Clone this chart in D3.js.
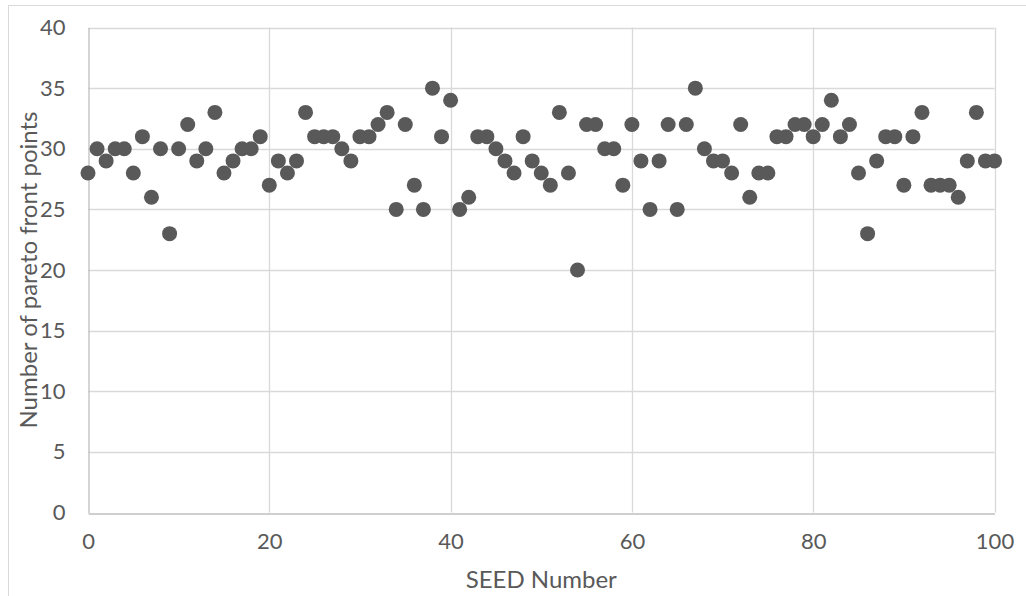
<!DOCTYPE html>
<html>
<head>
<meta charset="utf-8">
<script src="https://cdn.jsdelivr.net/npm/d3@7"></script>
<style>
  html, body { margin: 0; padding: 0; background: #fff; }
  svg { display: block; }
  text { font-family: Lato, "Open Sans", sans-serif; fill: #595959; }
</style>
</head>
<body>
<script>
const seeds = d3.range(0, 101);
const paretoPoints = [
  28, 30, 29, 30, 30, 28, 31, 26, 30, 23,
  30, 32, 29, 30, 33, 28, 29, 30, 30, 31,
  27, 29, 28, 29, 33, 31, 31, 31, 30, 29,
  31, 31, 32, 33, 25, 32, 27, 25, 35, 31,
  34, 25, 26, 31, 31, 30, 29, 28, 31, 29,
  28, 27, 33, 28, 20, 32, 32, 30, 30, 27,
  32, 29, 25, 29, 32, 25, 32, 35, 30, 29,
  29, 28, 32, 26, 28, 28, 31, 31, 32, 32,
  31, 32, 34, 31, 32, 28, 23, 29, 31, 31,
  27, 31, 33, 27, 27, 27, 26, 29, 33, 29,
  29
];
const xTicks = [0, 20, 40, 60, 80, 100];
const yTicks = [0, 5, 10, 15, 20, 25, 30, 35, 40];
const xTitle = "SEED Number";
const yTitle = "Number of pareto front points";

const W = 1026, H = 596;
const svg = d3.select("body").append("svg").attr("width", W).attr("height", H);

// outer chart border
svg.append("rect").attr("x", 8.5).attr("y", 5.5).attr("width", W - 8).attr("height", H)
  .attr("fill", "#fff").attr("stroke", "#d9d9d9").attr("stroke-width", 1);

const x = d3.scaleLinear().domain([0, 100]).range([88, 994.5]);
const y = d3.scaleLinear().domain([0, 40]).range([512.5, 27.5]);

// horizontal gridlines
svg.append("g").selectAll("line").data(yTicks.filter(d => d > 0)).join("line")
  .attr("x1", x(0)).attr("x2", x(100))
  .attr("y1", d => Math.round(y(d)) + 0.5).attr("y2", d => Math.round(y(d)) + 0.5)
  .attr("stroke", "#d9d9d9").attr("stroke-width", 1.3);
// vertical gridlines
svg.append("g").selectAll("line").data(xTicks.filter(d => d > 0)).join("line")
  .attr("y1", y(0)).attr("y2", y(40))
  .attr("x1", d => Math.round(x(d)) + 0.5).attr("x2", d => Math.round(x(d)) + 0.5)
  .attr("stroke", "#d9d9d9").attr("stroke-width", 1.3);

// axes
const xAxis = d3.axisBottom(x).tickValues(xTicks).tickSize(0).tickPadding(20);
const gx = svg.append("g").attr("transform", `translate(0,${Math.round(y(0)) + 0.5})`).call(xAxis);
gx.select(".domain").attr("stroke", "#bfbfbf").attr("stroke-width", 1.3);
gx.selectAll("text").attr("font-size", 22).attr("fill", "#595959").style("font-family", "Lato, sans-serif");

const yAxis = d3.axisLeft(y).tickValues(yTicks).tickSize(0).tickPadding(23);
const gy = svg.append("g").attr("transform", `translate(${Math.round(x(0)) + 0.5},0)`).call(yAxis);
gy.select(".domain").attr("stroke", "#bfbfbf").attr("stroke-width", 1.3);
gy.selectAll("text").attr("font-size", 22).attr("fill", "#595959").style("font-family", "Lato, sans-serif");

// points
svg.append("g").selectAll("circle").data(seeds).join("circle")
  .attr("cx", (d) => x(d)).attr("cy", (d, i) => y(paretoPoints[i]))
  .attr("r", 7.5).attr("fill", "#595959");

// titles
svg.append("text").attr("x", (x(0) + x(100)) / 2).attr("y", 588)
  .attr("text-anchor", "middle").attr("font-size", 24).text(xTitle);
svg.append("text").attr("transform", `translate(37,${(y(0) + y(40)) / 2}) rotate(-90)`)
  .attr("text-anchor", "middle").attr("font-size", 24).text(yTitle);
</script>
</body>
</html>
